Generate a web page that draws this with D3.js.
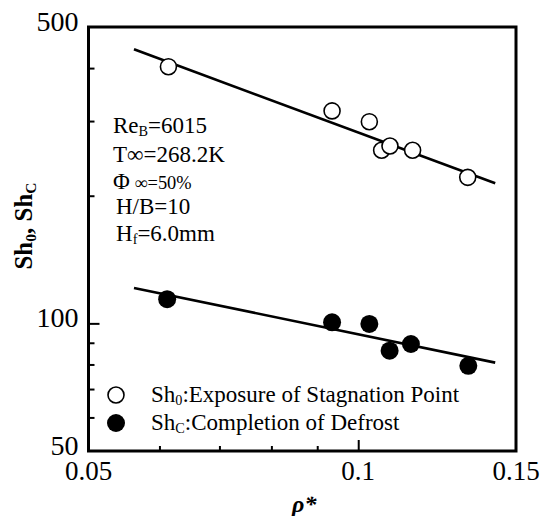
<!DOCTYPE html>
<html>
<head>
<meta charset="utf-8">
<script src="https://cdn.jsdelivr.net/npm/d3@7"></script>
<style>
  html, body { margin: 0; padding: 0; background: #fff; }
  svg { display: block; }
  text { font-family: "Liberation Serif", "Times New Roman", serif; fill: #000; }
</style>
</head>
<body>
<script>
// ---- data ----
const xMajorTicks = [0.05, 0.1, 0.15];
const xTickLabels = ["0.05", "0.1", "0.15"];
const xMinorTicks = [0.06, 0.07, 0.08, 0.09];
const yMajorTicks = [50, 100, 500];
const yTickLabels = ["50", "100", "500"];
const yMinorTicks = [60, 70, 80, 90, 200, 300, 400];

const rhoSh0 = [0.0614, 0.0935, 0.1029, 0.1062, 0.1085, 0.1150, 0.1325];
const sh0    = [403, 317, 299, 256, 262, 256, 221];
const rhoShC = [0.0612, 0.0935, 0.1029, 0.1084, 0.1145, 0.1327];
const shC    = [114, 100.6, 99.7, 86.2, 89.4, 79.4];

const fitRho = [0.0562, 0.1422];
const fitSh0 = [443, 214];
const fitShC = [121.2, 80.8];

const condLines = [
  [["Re", ""], ["B", "sub"], ["=6015", ""]],
  [["T\u221E=268.2K", ""]],
  [["\u03A6", ""], [" \u221E=50%", "small"]],
  [["H/B=10", ""]],
  [["H", ""], ["f", "sub"], ["=6.0mm", ""]]
];
const legendLabels = [
  [["Sh", ""], ["0", "sub"], [":Exposure of Stagnation Point", ""]],
  [["Sh", ""], ["C", "sub"], [":Completion of Defrost", ""]]
];

// ---- layout ----
const W = 541, H = 516;
const L = 88.5, R = 516, T = 27, B = 451;

const svg = d3.select("body").append("svg").attr("width", W).attr("height", H);

const x = d3.scaleLog().domain([0.05, 0.15]).range([L, R]);
const y = d3.scaleLog().domain([50, 500]).range([B, T]);

// ticks (inward)
const gx = svg.append("g").attr("transform", `translate(0,${B})`);
gx.call(d3.axisBottom(x).tickValues([0.1]).tickSizeInner(-11).tickSizeOuter(0).tickFormat(""));
gx.append("g").call(d3.axisBottom(x).tickValues(xMinorTicks).tickSizeInner(-5).tickSizeOuter(0).tickFormat(""));
gx.selectAll("path.domain").remove();
gx.selectAll("line").attr("stroke", "#000").attr("stroke-width", 2);

const gy = svg.append("g").attr("transform", `translate(${L},0)`);
gy.call(d3.axisLeft(y).tickValues([100]).tickSizeInner(-11).tickSizeOuter(0).tickFormat(""));
gy.append("g").call(d3.axisLeft(y).tickValues(yMinorTicks).tickSizeInner(-6).tickSizeOuter(0).tickFormat(""));
gy.selectAll("path.domain").remove();
gy.selectAll("line").attr("stroke", "#000").attr("stroke-width", 2);

// tick labels
svg.append("g").selectAll("text").data(xMajorTicks).join("text")
  .attr("x", d => x(d)).attr("y", B + 29)
  .attr("text-anchor", "middle").attr("font-size", 27)
  .text((d, i) => xTickLabels[i]);

svg.append("g").selectAll("text").data(yMajorTicks).join("text")
  .attr("x", L - 10).attr("y", d => y(d) + 4)
  .attr("text-anchor", "end").attr("font-size", 28)
  .text((d, i) => yTickLabels[i]);

// frame
svg.append("rect").attr("x", L).attr("y", T).attr("width", R - L).attr("height", B - T)
  .attr("fill", "none").attr("stroke", "#000").attr("stroke-width", 3);

// fit lines
const line = d3.line().x(d => x(d[0])).y(d => y(d[1]));
svg.append("path").datum(fitRho.map((r, i) => [r, fitSh0[i]]))
  .attr("d", line).attr("fill", "none").attr("stroke", "#000").attr("stroke-width", 2.6);
svg.append("path").datum(fitRho.map((r, i) => [r, fitShC[i]]))
  .attr("d", line).attr("fill", "none").attr("stroke", "#000").attr("stroke-width", 2.6);

// points
svg.append("g").selectAll("circle").data(rhoSh0.map((r, i) => [r, sh0[i]])).join("circle")
  .attr("cx", d => x(d[0])).attr("cy", d => y(d[1])).attr("r", 8)
  .attr("fill", "#fff").attr("stroke", "#000").attr("stroke-width", 1.6);
svg.append("g").selectAll("circle").data(rhoShC.map((r, i) => [r, shC[i]])).join("circle")
  .attr("cx", d => x(d[0])).attr("cy", d => y(d[1])).attr("r", 9)
  .attr("fill", "#000");

// rich text helper
function rich(sel, parts, size) {
  parts.forEach(([t, kind]) => {
    const ts = sel.append("tspan").text(t);
    if (kind === "sub") ts.attr("font-size", size * 0.62).attr("baseline-shift", "-22%");
    else if (kind === "small") ts.attr("font-size", size * 0.8);
  });
}

// conditions text
const condY = [133, 162, 189, 214, 241];
const condX = [113, 113, 113, 116, 116];
condLines.forEach((parts, i) => {
  const t = svg.append("text").attr("x", condX[i]).attr("y", condY[i]).attr("font-size", 23);
  rich(t, parts, 23);
});

// legend
const legY = [395, 423];
svg.append("circle").attr("cx", 116).attr("cy", legY[0]).attr("r", 8)
  .attr("fill", "#fff").attr("stroke", "#000").attr("stroke-width", 1.6);
svg.append("circle").attr("cx", 116).attr("cy", legY[1]).attr("r", 9).attr("fill", "#000");
legendLabels.forEach((parts, i) => {
  const t = svg.append("text").attr("x", 151).attr("y", legY[i] + 7).attr("font-size", 23);
  rich(t, parts, 23);
});

// axis titles
svg.append("text").attr("x", (L + R) / 2 + 2).attr("y", 512)
  .attr("text-anchor", "middle").attr("font-size", 24)
  .attr("font-weight", "bold").attr("font-style", "italic")
  .text("\u03C1*");

const yt = svg.append("text")
  .attr("transform", `translate(32,226) rotate(-90)`)
  .attr("text-anchor", "middle").attr("font-size", 25).attr("font-weight", "bold");
rich(yt, [["Sh", ""], ["0", "sub"], [", Sh", ""], ["C", "sub"]], 25);
</script>
</body>
</html>
